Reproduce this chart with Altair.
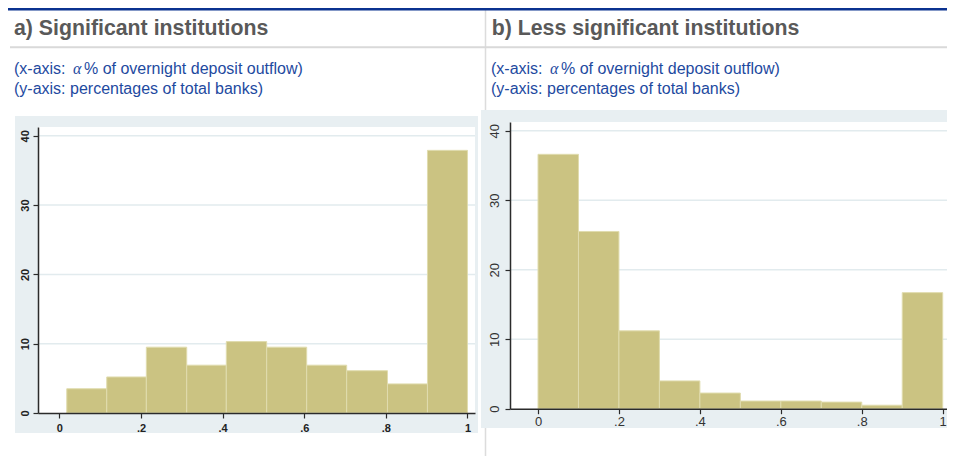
import altair as alt
import pandas as pd

# ---------------- data ----------------
a_edges = [0.018, 0.116, 0.213, 0.312, 0.409, 0.508, 0.606, 0.704, 0.804, 0.902, 1.0]
a_pct = [3.5, 5.2, 9.5, 6.9, 10.3, 9.5, 6.9, 6.1, 4.2, 37.9]
b_edges = [0.0, 0.1, 0.2, 0.3, 0.4, 0.5, 0.6, 0.7, 0.8, 0.9, 1.0]
b_pct = [36.6, 25.5, 11.2, 4.0, 2.25, 1.1, 1.1, 0.95, 0.5, 16.7]
x_ticks = [0, 0.2, 0.4, 0.6, 0.8, 1.0]
y_ticks = [0, 10, 20, 30, 40]
grid_vals = [10, 20, 30, 40]
titles = ["a) Significant institutions", "b) Less significant institutions"]
sub_x_parts = ["(x-axis:", "\u03b1", "% of overnight deposit outflow)"]
sub_y = "(y-axis: percentages of total banks)"

# ---------------- layout ----------------
W, H = 939, 448
FONT = "Liberation Sans, Arial, sans-serif"
BG = "#e8eff2"
GRID = "#e2ebee"
BAR = "#cbc382"
BAR_EDGE = "#e0dcae"
AXIS = "#2b2b2b"
SUB = "#1e4a9f"

dummy = pd.DataFrame({"d": [0]})


def deco_rect(x0, x1, y0, y1, color):
    return alt.Chart(dummy).mark_rect(color=color).encode(
        x=alt.value(x0), x2=alt.value(x1), y=alt.value(y0), y2=alt.value(y1)
    )


def deco_rule(x0, x1, y0, y1, color, w):
    return alt.Chart(dummy).mark_rule(color=color, strokeWidth=w).encode(
        x=alt.value(x0), x2=alt.value(x1), y=alt.value(y0), y2=alt.value(y1)
    )


def deco_text(x, y, txt, size, color, weight="normal", font=FONT, style="normal"):
    return alt.Chart(dummy).mark_text(
        align="left", baseline="alphabetic", font=font, fontSize=size,
        fontWeight=weight, fontStyle=style, color=color
    ).encode(x=alt.value(x), y=alt.value(y), text=alt.value(txt))


def subtitle_block(x0):
    return [
        deco_text(x0, 66, sub_x_parts[0], 16, SUB),
        deco_text(x0 + 59, 66, sub_x_parts[1], 16, SUB,
                  font="Liberation Serif, DejaVu Serif, serif", style="italic"),
        deco_text(x0 + 70, 66, sub_x_parts[2], 16, SUB),
        deco_text(x0, 86, sub_y, 16, SUB),
    ]


def panel(edges, pct, xdom, xrng, ydom, yrng, xoff, yoff, lab):
    df = pd.DataFrame({"start": edges[:-1], "end": edges[1:], "pct": pct})
    xs = alt.Scale(domain=xdom, range=xrng, nice=False, zero=False)
    ys = alt.Scale(domain=ydom, range=yrng, nice=False, zero=False)
    grid = alt.Chart(pd.DataFrame({"g": grid_vals})).mark_rule(
        color=GRID, strokeWidth=1.5
    ).encode(
        y=alt.Y("g:Q", scale=ys, axis=None),
        x=alt.value(xrng[0] + 1), x2=alt.value(xrng[1]),
    )
    common = dict(
        grid=False, title=None, domainColor=AXIS, domainWidth=1.5,
        tickColor=AXIS, tickWidth=1.2, tickSize=5, labelFont=lab["font"],
        labelFontSize=lab["size"], labelFontWeight=lab["weight"],
        labelColor=lab["color"], labelOverlap=False, labelFlush=False,
        zindex=2,
    )
    xaxis = alt.Axis(
        orient="bottom", offset=xoff, values=x_ticks,
        labelExpr="replace(format(datum.value, '.1~f'), '0.', '.')",
        labelPadding=lab["xpad"], **common
    )
    yaxis = alt.Axis(
        orient="left", offset=yoff, values=y_ticks, labelAngle=270,
        labelAlign="center", labelBaseline="bottom",
        labelPadding=lab["ypad"], **common
    )
    bars = alt.Chart(df).mark_bar(
        fill=BAR, stroke=BAR_EDGE, strokeWidth=1
    ).encode(
        x=alt.X("start:Q", scale=xs, axis=xaxis),
        x2="end:Q",
        y=alt.Y("pct:Q", scale=ys, axis=yaxis),
        y2=alt.datum(0),
    )
    return [grid, bars]


lab_a = dict(font="Liberation Sans Narrow, Liberation Sans, Arial, sans-serif",
             size=11, weight="bold", color="#222222", xpad=4, ypad=3)
lab_b = dict(font=FONT, size=13, weight="normal", color="#333333", xpad=2, ypad=4)

# panel a: plot area chart x 30..467, y 119..405
pa = panel(a_edges, a_pct, [-0.0525, 1.0185], [30, 467], [0, 41.27], [405, 119],
           -(H - 405), -30, lab_a)
# panel b: plot area chart x 502..942, y 114..400.7
pb = panel(b_edges, b_pct, [-0.0692, 1.018], [502, 942], [0, 41.25], [400.7, 114],
           -(H - 400.7), -502, lab_b)

layers = [
    deco_rule(477.5, 477.5, 0, H, "#dcdcdc", 1.5),
    deco_rect(7, 470, 108, 425, BG),
    deco_rect(473, 947, 102, 420, BG),
    deco_rect(30, 467, 119, 405, "#ffffff"),
    deco_rect(502, 942, 114, 401, "#ffffff"),
    deco_rule(2, W, 39.3, 39.3, "#d9d9d9", 2),
    deco_rule(0, W, 1.3, 1.3, "#0b3290", 2.5),
    deco_text(6, 27, titles[0], 21.3, "#595959", "bold"),
    deco_text(483.7, 27, titles[1], 21.3, "#595959", "bold"),
] + subtitle_block(6) + subtitle_block(483) + pa + pb

chart = alt.layer(*layers).resolve_scale(
    x="independent", y="independent"
).properties(
    width=W, height=H, padding=0,
    autosize=alt.AutoSizeParams(type="none"),
    background="#ffffff",
).configure_view(strokeWidth=0)

chart.save("out.html", embed_options={"renderer": "svg", "actions": False})
